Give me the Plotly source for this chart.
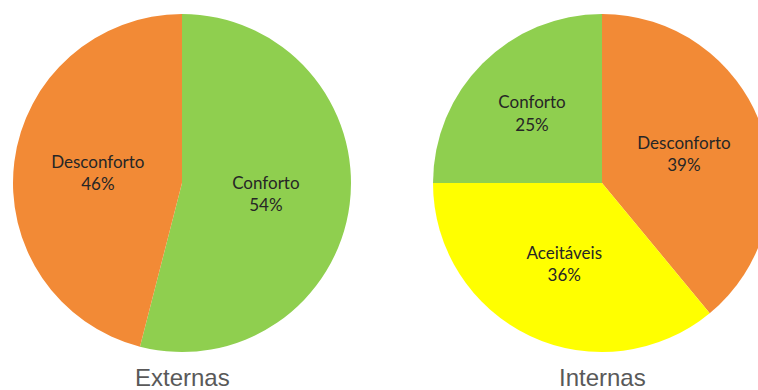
import plotly.graph_objects as go

# Data
groups = ["Externas", "Internas"]
ext_labels = ["Conforto", "Desconforto"]
ext_values = [54, 46]
int_labels = ["Desconforto", "Aceitáveis", "Conforto"]
int_values = [39, 36, 25]

color_map = {"Conforto": "#8FCF4F", "Desconforto": "#F28A36", "Aceitáveis": "#FFFF00"}

W, H = 776, 390

label_font = dict(family="Lato, 'Open Sans', sans-serif", size=17, color="#262626")

fig = go.Figure()
fig.add_trace(go.Pie(
    labels=ext_labels, values=ext_values, sort=False, direction="clockwise", rotation=0,
    marker=dict(colors=[color_map[l] for l in ext_labels], line=dict(width=0)),
    textinfo="label+percent", texttemplate="%{label}<br>%{percent:.0%}",
    textposition="inside", insidetextorientation="horizontal",
    textfont=label_font, hoverinfo="none",
    domain=dict(x=[13 / W, 351 / W], y=[38 / H, 376 / H]),
))
fig.add_trace(go.Pie(
    labels=int_labels, values=int_values, sort=False, direction="clockwise", rotation=0,
    marker=dict(colors=[color_map[l] for l in int_labels], line=dict(width=0)),
    textinfo="label+percent", texttemplate="%{label}<br>%{percent:.0%}",
    textposition="inside", insidetextorientation="horizontal",
    textfont=label_font, hoverinfo="none",
    domain=dict(x=[433 / W, 771 / W], y=[38 / H, 376 / H]),
))

centers = [182 / W, 602 / W]
for g, cx in zip(groups, centers):
    fig.add_annotation(
        text=g, x=cx, y=0, xref="paper", yref="paper", xanchor="center", yanchor="bottom",
        yshift=-3, showarrow=False,
        font=dict(family="'Liberation Sans', Arial, sans-serif", size=24, color="#595959"),
    )

fig.update_layout(
    width=W, height=H, margin=dict(l=0, r=0, t=0, b=0),
    paper_bgcolor="white", plot_bgcolor="white", showlegend=False,
)

fig.write_html(
    "out.html",
    config={"displayModeBar": False},
    post_script="document.body.style.margin='0';document.body.style.overflow='hidden';document.documentElement.style.overflow='hidden';",
)
